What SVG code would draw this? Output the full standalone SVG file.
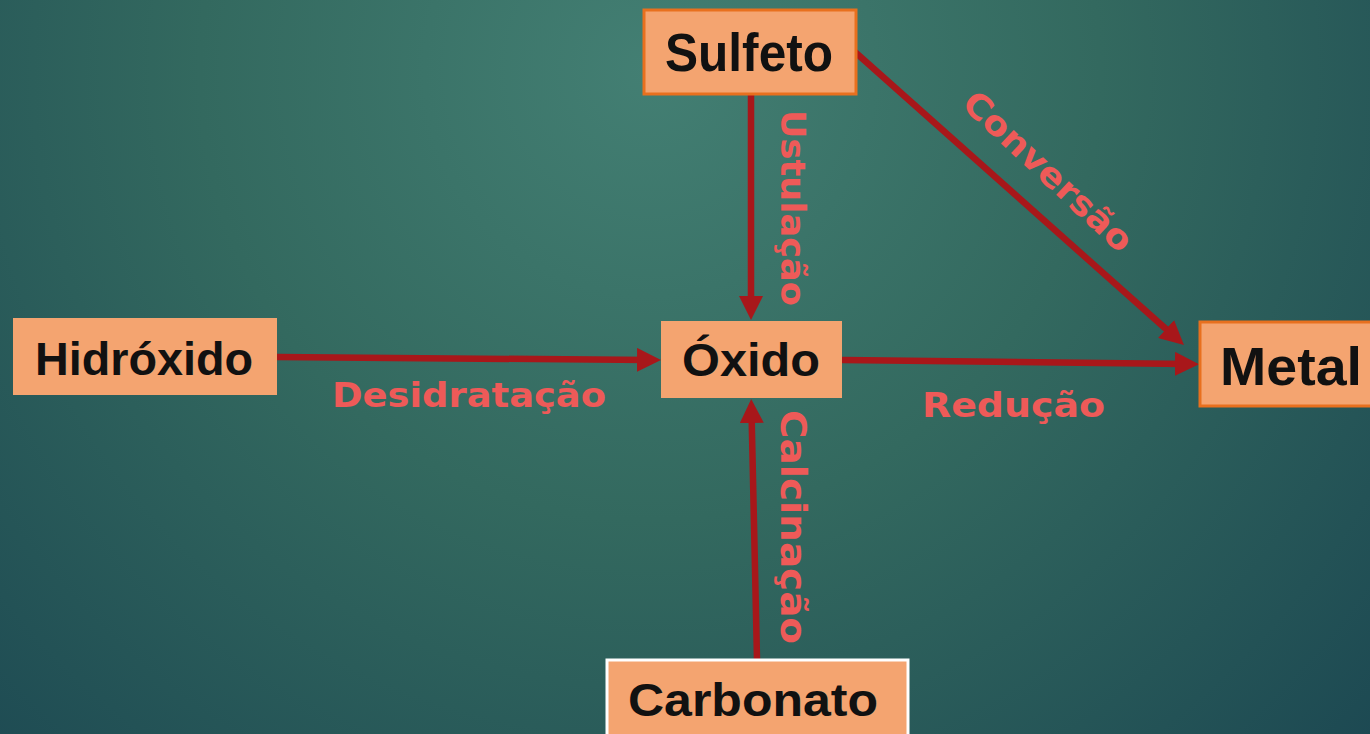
<svg xmlns="http://www.w3.org/2000/svg" width="1370" height="734" viewBox="0 0 1370 734">
  <defs>
    <radialGradient id="bg" cx="650" cy="70" r="1000" gradientUnits="userSpaceOnUse">
      <stop offset="0" stop-color="#437f73"/>
      <stop offset="0.45" stop-color="#33695f"/>
      <stop offset="1" stop-color="#1c4852"/>
    </radialGradient>
    <marker id="ah" viewBox="0 0 24 24" refX="12" refY="12" markerWidth="24" markerHeight="24" markerUnits="userSpaceOnUse" orient="auto">
      <path d="M0,0 L24,12 L0,24 Z" fill="#a8171a"/>
    </marker>
    <style>
      .box { fill: #f4a470; }
      .ob { stroke: #e8701e; stroke-width: 3; }
      .wb { stroke: #ffffff; stroke-width: 3; }
      .nt { font-family: "Liberation Sans", Arial, sans-serif; font-weight: bold; fill: #111111; text-anchor: middle; }
      .lb { font-family: "DejaVu Sans", "Liberation Sans", sans-serif; font-weight: bold; fill: #ee5a58; }
      .ar { stroke: #a8171a; stroke-width: 6.5; fill: none; stroke-linecap: round; marker-end: url(#ah); }
    </style>
  </defs>
  <rect x="0" y="0" width="1370" height="734" fill="url(#bg)"/>

  <g id="connectors">
    <line class="ar" x1="751" y1="94" x2="751" y2="308"/>
    <line class="ar" x1="276" y1="357" x2="649" y2="360"/>
    <line class="ar" x1="843" y1="360" x2="1187" y2="364"/>
    <line class="ar" x1="757" y1="659" x2="751.5" y2="411"/>
    <line class="ar" x1="855" y1="52" x2="1175" y2="337"/>
  </g>

  <g id="labels">
    <text class="lb" x="332" y="407" font-size="34" textLength="274" lengthAdjust="spacingAndGlyphs">Desidratação</text>
    <text class="lb" x="922" y="417" font-size="34" textLength="183" lengthAdjust="spacingAndGlyphs">Redução</text>
    <text class="lb" font-size="34" transform="translate(781,110) rotate(90)" textLength="196" lengthAdjust="spacingAndGlyphs">Ustulação</text>
    <text class="lb" font-size="36" transform="translate(781,410) rotate(90)" textLength="234" lengthAdjust="spacingAndGlyphs">Calcinação</text>
    <text class="lb" font-size="34" text-anchor="middle" transform="translate(1040,180) rotate(43)" textLength="218" lengthAdjust="spacingAndGlyphs">Conversão</text>
  </g>

  <g id="node-sulfeto">
    <rect class="box ob" x="644" y="10" width="212" height="84"/>
    <text class="nt" x="749" y="71" font-size="53" textLength="168" lengthAdjust="spacingAndGlyphs">Sulfeto</text>
  </g>
  <g id="node-hidroxido">
    <rect class="box" x="13" y="318" width="264" height="77"/>
    <text class="nt" x="144" y="375" font-size="46" textLength="218" lengthAdjust="spacingAndGlyphs">Hidróxido</text>
  </g>
  <g id="node-oxido">
    <rect class="box" x="661" y="321" width="181" height="77"/>
    <text class="nt" x="751" y="376" font-size="47" textLength="138" lengthAdjust="spacingAndGlyphs">Óxido</text>
  </g>
  <g id="node-metal">
    <rect class="box ob" x="1200" y="322" width="175" height="84"/>
    <text class="nt" x="1291" y="385" font-size="54" textLength="142" lengthAdjust="spacingAndGlyphs">Metal</text>
  </g>
  <g id="node-carbonato">
    <rect class="box wb" x="607" y="660" width="301" height="80"/>
    <text class="nt" x="753" y="716" font-size="46" textLength="250" lengthAdjust="spacingAndGlyphs">Carbonato</text>
  </g>
</svg>
